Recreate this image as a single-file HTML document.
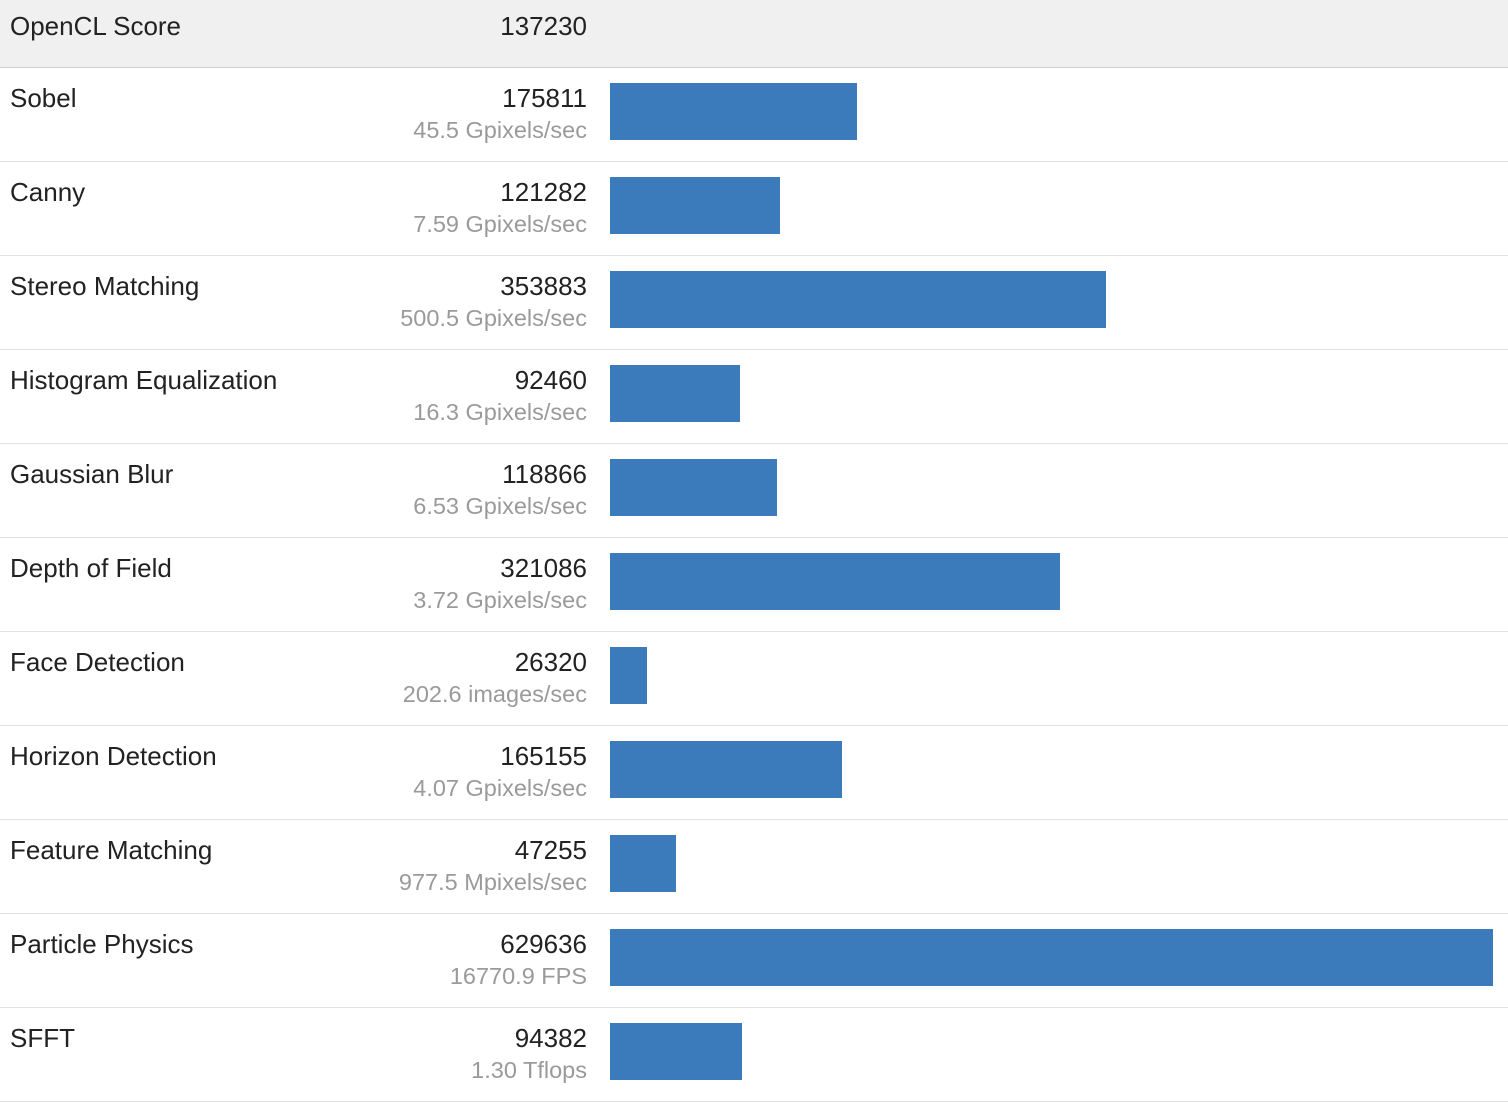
<!DOCTYPE html>
<html><head><meta charset="utf-8"><style>
body{margin:0;width:1508px;height:1092px;overflow:hidden;background:#fff;font-family:"Liberation Sans",Arial,sans-serif;position:relative}
.hdr{position:absolute;left:0;top:0;width:1508px;height:67px;background:#f0f0f0;border-bottom:1px solid #cfcfcf}
.t{position:absolute;font-size:26px;line-height:30px;color:#222;white-space:nowrap}
.r{text-align:right;width:300px;left:287px}
.sub{color:#9a9a9a;font-size:23.5px}
.row{position:absolute;left:0;width:1508px;height:93px;border-bottom:1px solid #e2e2e2;background:#fff}
.bar{position:absolute;left:610px;height:57px;background:#3b7bbb}
</style></head><body>
<div class="hdr">
<div class="t" style="left:10px;top:11px">OpenCL Score</div>
<div class="t r" style="top:11px">137230</div>
</div>
<div id="rows"></div>
<script>
const categories=["Sobel","Canny","Stereo Matching","Histogram Equalization","Gaussian Blur","Depth of Field","Face Detection","Horizon Detection","Feature Matching","Particle Physics","SFFT"];
const scores=[175811,121282,353883,92460,118866,321086,26320,165155,47255,629636,94382];
const subs=["45.5 Gpixels/sec","7.59 Gpixels/sec","500.5 Gpixels/sec","16.3 Gpixels/sec","6.53 Gpixels/sec","3.72 Gpixels/sec","202.6 images/sec","4.07 Gpixels/sec","977.5 Mpixels/sec","16770.9 FPS","1.30 Tflops"];
const maxV=Math.max(...scores);
function xw(v){return v/maxV*883;}
const host=document.getElementById('rows');
categories.forEach((c,i)=>{
 const top=68+i*94;
 const row=document.createElement('div');row.className='row';row.style.top=top+'px';
 
 
 const n=document.createElement('div');n.className='t';n.style.left='10px';n.style.top='15px';n.textContent=c;
 
 
 const s=document.createElement('div');s.className='t r';s.style.top='15px';s.textContent=scores[i];
 
 
 const u=document.createElement('div');u.className='t r sub';u.style.top='47px';u.textContent=subs[i];
 
 
 const b=document.createElement('div');b.className='bar';b.style.top='15px';b.style.width=xw(scores[i])+'px';
 
 
 row.append(n,s,u,b);host.appendChild(row);
});
</script>
</body></html>
